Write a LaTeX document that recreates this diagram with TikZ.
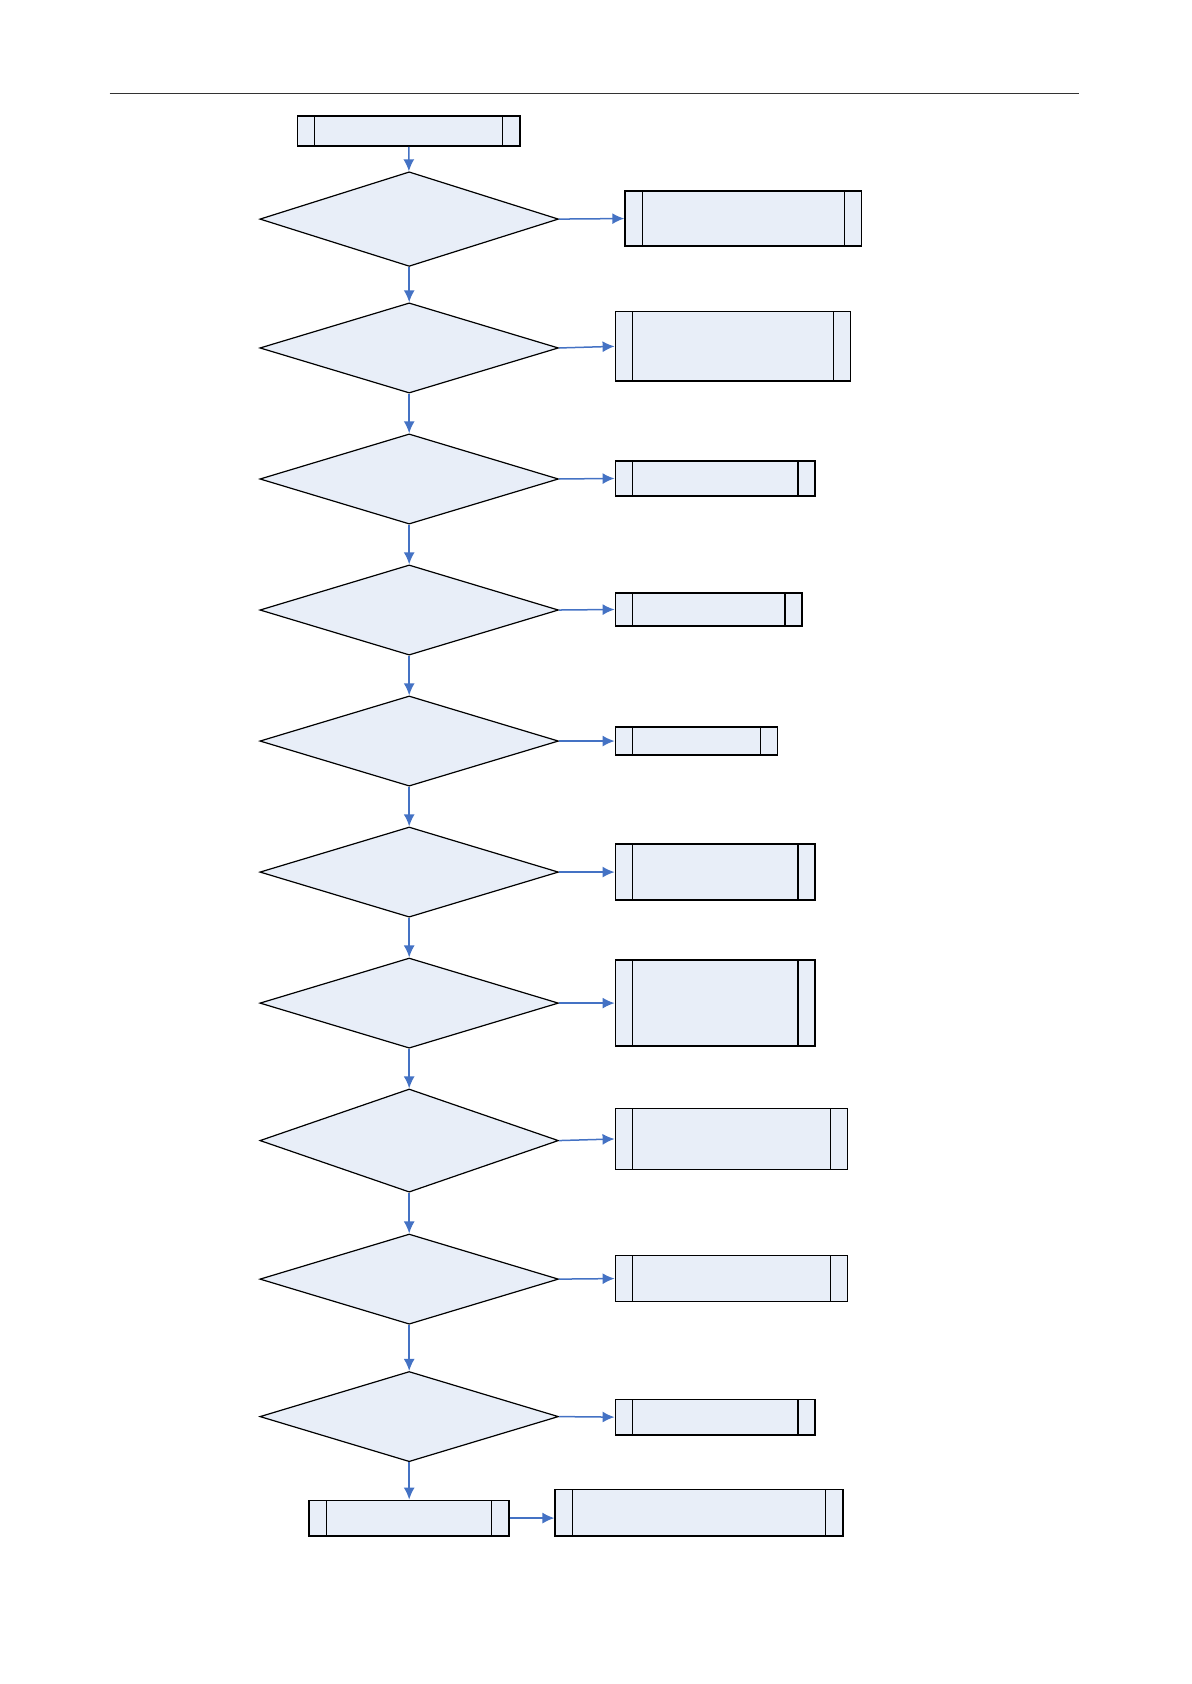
\documentclass[tikz,border=0pt]{standalone}
\usepackage{tikz}
\usetikzlibrary{arrows.meta, positioning, shapes.geometric}

\definecolor{boxfill}{RGB}{232,238,248}
\definecolor{arrowblue}{RGB}{68,114,196}

\tikzset{
  decision/.style={diamond, draw, fill=boxfill, line width=0.6pt, inner sep=0pt,
    minimum width=149.3pt, minimum height=#1},
  decision/.default=45.1pt,
  subproc/.style={rectangle, draw, fill=boxfill, line width=0.8pt, inner sep=0pt,
    path picture={
      \draw[line width=0.6pt] ([xshift=8.6pt]path picture bounding box.north west) -- ([xshift=8.6pt]path picture bounding box.south west);
      \draw[line width=0.6pt] ([xshift=-8.6pt]path picture bounding box.north east) -- ([xshift=-8.6pt]path picture bounding box.south east);
    }},
  flow/.style={draw=arrowblue, line width=0.75pt, -{Latex[length=6pt, width=5.5pt]}}
}

\begin{document}
\begin{tikzpicture}[x=0.537pt, y=-0.537pt]
  \useasboundingbox (0,0) rectangle (1109,1568);
  % header rule
  \coordinate (hl) at (102,87);
  \coordinate (hr) at (1005,87);
  \draw[line width=0.5pt, black!80] (hl) -- (hr);

  % main column
  \node[subproc, minimum width=111.2pt, minimum height=15pt] (start) at (380.5,122) {};
  \node[decision=47.3pt] (d1) at (381,204) {};
  \node[decision] (d2) at (381,324) {};
  \node[decision] (d3) at (381,446) {};
  \node[decision] (d4) at (381,568) {};
  \node[decision] (d5) at (381,690) {};
  \node[decision] (d6) at (381,812) {};
  \node[decision] (d7) at (381,934) {};
  \node[decision=51.6pt] (d8) at (381,1062) {};
  \node[decision] (d9) at (381,1191) {};
  \node[decision] (d10) at (381,1319) {};
  \node[subproc, minimum width=99.9pt, minimum height=17.7pt] (final) at (381,1413.5) {};

  % right column
  \node[subproc, minimum width=118.1pt, minimum height=27.4pt] (r1) at (692,203.5) {};
  \node[subproc, minimum width=117.6pt, minimum height=34.9pt] (r2) at (682.5,322.5) {};
  \node[subproc, minimum width=99.9pt, minimum height=17.7pt] (r3) at (666,445.5) {};
  \node[subproc, minimum width=93.4pt, minimum height=16.6pt] (r4) at (660,567.5) {};
  \node[subproc, minimum width=81.1pt, minimum height=14pt] (r5) at (648.5,690) {};
  \node[subproc, minimum width=99.9pt, minimum height=27.9pt] (r6) at (666,812) {};
  \node[subproc, minimum width=99.9pt, minimum height=43pt] (r7) at (666,934) {};
  \node[subproc, minimum width=116pt, minimum height=30.6pt] (r8) at (681,1060.5) {};
  \node[subproc, minimum width=116pt, minimum height=23.1pt] (r9) at (681,1190.5) {};
  \node[subproc, minimum width=99.9pt, minimum height=17.7pt] (r10) at (666,1319.5) {};
  \node[subproc, minimum width=143.9pt, minimum height=23.1pt] (r11) at (651,1408.5) {};

  % down arrows
  \draw[flow] (start) -- (d1);
  \draw[flow] (d1) -- (d2);
  \draw[flow] (d2) -- (d3);
  \draw[flow] (d3) -- (d4);
  \draw[flow] (d4) -- (d5);
  \draw[flow] (d5) -- (d6);
  \draw[flow] (d6) -- (d7);
  \draw[flow] (d7) -- (d8);
  \draw[flow] (d8) -- (d9);
  \draw[flow] (d9) -- (d10);
  \draw[flow] (d10) -- (final);

  % side arrows
  \draw[flow] (d1.east) -- (r1.west);
  \draw[flow] (d2.east) -- (r2.west);
  \draw[flow] (d3.east) -- (r3.west);
  \draw[flow] (d4.east) -- (r4.west);
  \draw[flow] (d5.east) -- (r5.west);
  \draw[flow] (d6.east) -- (r6.west);
  \draw[flow] (d7.east) -- (r7.west);
  \draw[flow] (d8.east) -- (r8.west);
  \draw[flow] (d9.east) -- (r9.west);
  \draw[flow] (d10.east) -- (r10.west);
  \draw[flow] (final.east) -- (final.east -| r11.west);
\end{tikzpicture}
\end{document}
